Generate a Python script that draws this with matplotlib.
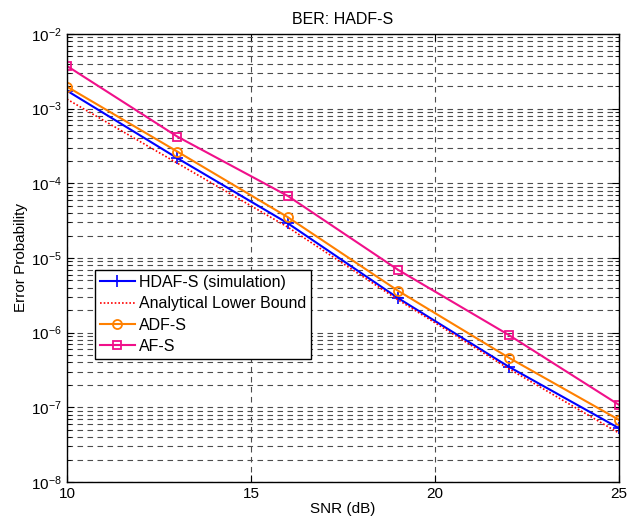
import numpy as np
import matplotlib
matplotlib.use("Agg")
import matplotlib.pyplot as plt
from matplotlib.ticker import FixedLocator, NullFormatter

plt.rcParams['font.family'] = ['Liberation Sans', 'DejaVu Sans']

# SNR points (dB)
snr = [10, 13, 16, 19, 22, 25]

# BER curves
hdaf_sim = [1.74e-3, 2.17e-4, 2.92e-5, 2.9e-6, 3.51e-7, 5.26e-8]
lower_bound = [1.34e-3, 1.86e-4, 2.59e-5, 2.75e-6, 3.3e-7, 4.52e-8]
adf = [1.97e-3, 2.66e-4, 3.52e-5, 3.63e-6, 4.64e-7, 6.8e-8]
af = [3.73e-3, 4.22e-4, 6.78e-5, 6.93e-6, 9.35e-7, 1.08e-7]

fig = plt.figure(figsize=(6.3, 5.22), dpi=100)
ax = fig.add_axes([0.1063, 0.0766, 0.8762, 0.8583])

ax.semilogy(snr, hdaf_sim, color='#0000ff', lw=1.5, marker='+', ms=9, mew=1.2,
            label='HDAF-S (simulation)')
ax.semilogy(snr, lower_bound, color='#ff0000', lw=1.2, ls=(0, (1, 1.2)),
            label='Analytical Lower Bound')
ax.semilogy(snr, adf, color='#ff8000', lw=1.5, marker='o', ms=6.5, mfc='none',
            mew=1.3, label='ADF-S')
ax.semilogy(snr, af, color='#f0108a', lw=1.5, marker='s', ms=6, mfc='none',
            mew=1.3, label='AF-S')

ax.set_xlim(10, 25)
ax.set_ylim(1e-8, 1e-2)
ax.set_xticks([10, 15, 20, 25])
decades = [1e-8, 1e-7, 1e-6, 1e-5, 1e-4, 1e-3, 1e-2]
ax.set_yticks(decades)
minor = [m * d for d in decades[:-1] for m in range(2, 10)]
ax.yaxis.set_minor_locator(FixedLocator(minor))
ax.yaxis.set_minor_formatter(NullFormatter())
ax.set_ylim(1e-8, 1e-2)

# dashed grid, major and minor
ax.grid(True, which='major', ls=(0, (5, 4)), color='0.3', lw=0.8)
ax.grid(True, which='minor', axis='y', ls=(0, (5, 4)), color='0.3', lw=0.8)

ax.tick_params(which='both', direction='in', top=True, right=True, labelsize=11)
ax.tick_params(which='major', length=5)
ax.tick_params(which='minor', length=3)
for s in ax.spines.values():
    s.set_linewidth(1.0)

ax.set_title('BER: HADF-S', fontsize=11.5, pad=7)
ax.set_xlabel('SNR (dB)', fontsize=11, labelpad=1)
ax.set_ylabel('Error Probability', fontsize=11, labelpad=2)

leg = ax.legend(loc='upper left', bbox_to_anchor=(0.0507, 0.473),
                fancybox=False, framealpha=1, edgecolor='black',
                fontsize=11.5, handlelength=2.2, borderpad=0.3, labelspacing=0.4,
                handletextpad=0.25, borderaxespad=0)
leg.get_frame().set_linewidth(1.0)

fig.savefig('out.png', dpi=100)
